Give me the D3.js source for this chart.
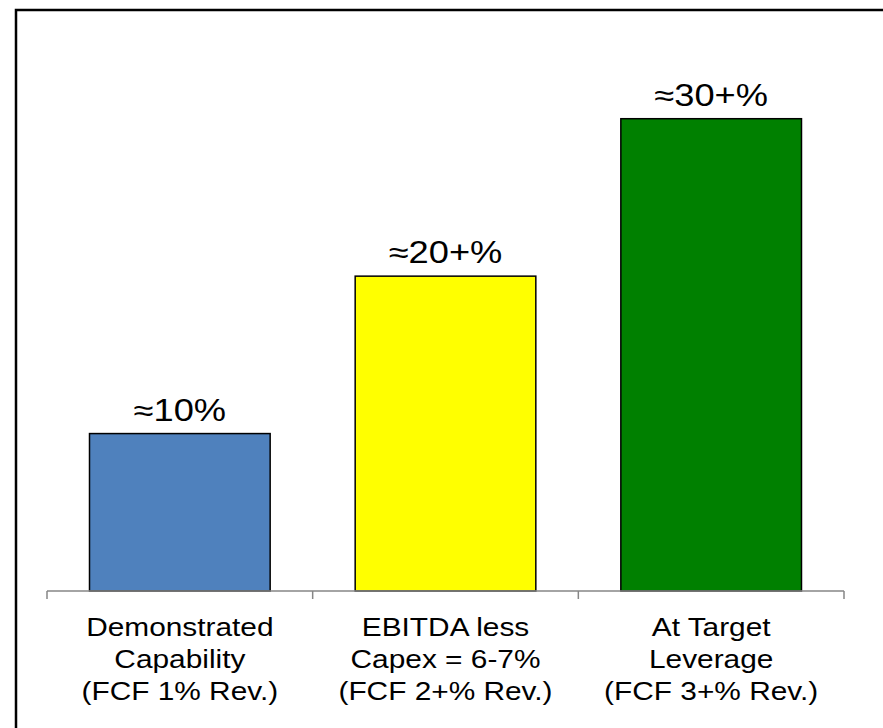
<!DOCTYPE html>
<html>
<head>
<meta charset="utf-8">
<script src="https://cdn.jsdelivr.net/npm/d3@7"></script>
<style>
  body { margin: 0; background: #fff; }
  svg text { font-family: "Liberation Sans", Arial, sans-serif; fill: #000; }
</style>
</head>
<body>
<script>
// Data
var categories = [
  ["Demonstrated", "Capability", "(FCF 1% Rev.)"],
  ["EBITDA less", "Capex = 6-7%", "(FCF 2+% Rev.)"],
  ["At Target", "Leverage", "(FCF 3+% Rev.)"]
];
var values = [10, 20, 30];
var valueLabels = ["≈10%", "≈20+%", "≈30+%"];
var colors = ["#4F81BD", "#FFFF00", "#008000"];

var width = 883,
    height = 728,
    stretch = 1.17; // the source text looks wider than normal Arial

var svg = d3.select("body").append("svg")
    .attr("width", width)
    .attr("height", height);

// frame (only top and left visible)
svg.append("path")
    .attr("d", "M16,728 V10 H883")
    .attr("fill", "none")
    .attr("stroke", "#000")
    .attr("stroke-width", 2.5);

var x = d3.scaleBand()
    .domain(d3.range(values.length))
    .range([47, 844])
    .paddingInner(0.32)
    .paddingOuter(0.16);

var y = d3.scaleLinear()
    .domain([0, 35])
    .range([591, 40]);

// bars
svg.append("g").attr("class", "bars")
  .selectAll("rect")
    .data(values)
  .enter().append("rect")
    .attr("x", function(d, i) { return x(i); })
    .attr("y", function(d) { return y(d); })
    .attr("width", x.bandwidth())
    .attr("height", function(d) { return y(0) - y(d); })
    .attr("fill", function(d, i) { return colors[i]; })
    .attr("stroke", "#000")
    .attr("stroke-width", 1.5);

// axis line with ticks between categories
var axis = svg.append("g").attr("class", "axis");
axis.append("line")
    .attr("x1", 47).attr("x2", 844)
    .attr("y1", y(0)).attr("y2", y(0))
    .attr("stroke", "#868686")
    .attr("stroke-width", 1.5);
axis.selectAll(".tick")
    .data(d3.range(values.length + 1))
  .enter().append("line")
    .attr("x1", function(i) { return 47 + i * x.step(); })
    .attr("x2", function(i) { return 47 + i * x.step(); })
    .attr("y1", y(0))
    .attr("y2", y(0) + 8)
    .attr("stroke", "#868686")
    .attr("stroke-width", 1.5);

// value labels
svg.append("g").attr("class", "values")
  .selectAll("text")
    .data(values)
  .enter().append("text")
    .attr("transform", function(d, i) {
      return "translate(" + (x(i) + x.bandwidth() / 2) + "," + (y(d) - 13) + ") scale(" + stretch + ",1)";
    })
    .attr("text-anchor", "middle")
    .style("font-size", "31px")
    .text(function(d, i) { return valueLabels[i]; });

// category labels
var cat = svg.append("g").attr("class", "categories")
  .selectAll("text")
    .data(categories)
  .enter().append("text")
    .attr("transform", function(d, i) {
      return "translate(" + (x(i) + x.bandwidth() / 2) + ",0) scale(" + stretch + ",1)";
    })
    .attr("text-anchor", "middle")
    .style("font-size", "25.5px");

cat.selectAll("tspan")
    .data(function(d) { return d; })
  .enter().append("tspan")
    .attr("x", 0)
    .attr("y", function(d, j) { return 636 + j * 32; })
    .text(function(d) { return d; });
</script>
</body>
</html>
